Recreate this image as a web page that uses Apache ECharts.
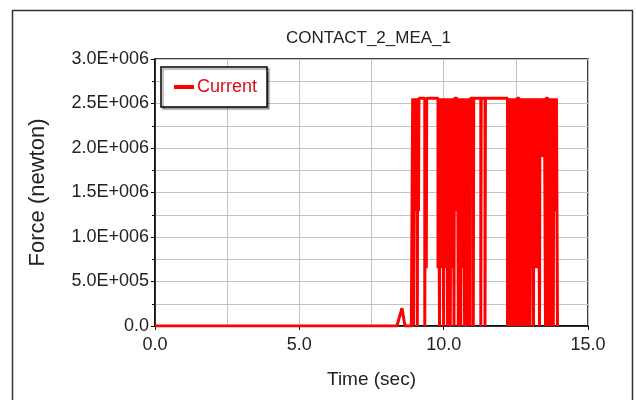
<!DOCTYPE html>
<html>
<head>
<meta charset="utf-8">
<style>html,body{margin:0;padding:0;background:#fff}#c{width:636px;height:400px}</style>
<script src="https://cdn.jsdelivr.net/npm/echarts@6/dist/echarts.min.js"></script>
</head>
<body>
<div id="c"></div>
<script>
// ---- data ----
const titleText = 'CONTACT_2_MEA_1';
const seriesName = 'Current';
const xTicks = [0, 5, 10, 15];
const xTickLabels = ['0.0', '5.0', '10.0', '15.0'];
const yTicks = [0, 500000, 1000000, 1500000, 2000000, 2500000, 3000000];
const yTickLabels = ['0.0', '5.0E+005', '1.0E+006', '1.5E+006', '2.0E+006', '2.5E+006', '3.0E+006'];

// quiet part with the small bump (straight segments)
const baseTime  = [0, 8.38, 8.556, 8.66, 8.90];
const baseForce = [0, 0, 200000, 0, 0];

// switching part (value holds from each time until the next one)
const stepTime = [
  8.88, 8.903, 8.927,
  8.955, 8.970, 9.007, 9.022, 9.048, 9.063, 9.087, 9.102, 9.128, 9.143,
  9.346, 9.361, 9.398, 9.413,
  9.804, 9.819, 9.856, 9.871, 9.908, 9.923, 9.953, 9.968, 9.998, 10.013,
  10.046, 10.061, 10.091, 10.106, 10.136, 10.151, 10.185, 10.200, 10.230, 10.245,
  10.275, 10.290, 10.323, 10.338, 10.358, 10.373,
  10.462, 10.477, 10.507, 10.522, 10.552, 10.567, 10.593, 10.608, 10.635, 10.650,
  10.680, 10.695, 10.725, 10.740, 10.774, 10.789, 10.819, 10.834, 10.864, 10.879,
  10.912, 10.927,
  11.026, 11.041, 11.286, 11.301, 11.432, 11.447,
  12.211, 12.226, 12.256, 12.271, 12.298, 12.313, 12.343, 12.358, 12.388, 12.403,
  12.436, 12.451, 12.481, 12.496, 12.526, 12.541,
  12.620, 12.635, 12.665, 12.680, 12.714, 12.729, 12.759, 12.774, 12.804, 12.819,
  12.852, 12.867, 12.897, 12.912, 12.942, 12.957, 12.991, 13.006,
  13.060, 13.075, 13.112, 13.127, 13.164, 13.179, 13.216, 13.231, 13.268, 13.283,
  13.320, 13.335, 13.372, 13.387, 13.424, 13.439, 13.476, 13.491, 13.528, 13.543,
  13.614, 13.629, 13.659, 13.674, 13.704, 13.719, 13.753, 13.768, 13.798, 13.813,
  13.843, 13.858, 13.891, 13.906, 13.943
];
const stepForce = [
  0, 1290000, 2560000,
  0, 2560000, 1290000, 2560000, 1290000, 2560000, 0, 2560000, 1290000, 2560000,
  0, 2560000, 650000, 2560000,
  650000, 2560000, 0, 2560000, 650000, 2560000, 650000, 2560000, 0, 2560000,
  650000, 2560000, 650000, 2560000, 0, 2560000, 650000, 2560000, 0, 2560000,
  650000, 2560000, 650000, 2560000, 0, 2560000,
  1290000, 2560000, 0, 2560000, 650000, 2560000, 0, 2560000, 650000, 2560000,
  650000, 2560000, 0, 2560000, 1290000, 2560000, 0, 2560000, 1290000, 2560000,
  0, 2560000,
  0, 2560000, 0, 2560000, 0, 2560000,
  0, 2560000, 1290000, 2560000, 0, 2560000, 0, 2560000, 1290000, 2560000,
  0, 2560000, 1290000, 2560000, 0, 2560000,
  0, 2560000, 0, 2560000, 1290000, 2560000, 0, 2560000, 0, 2560000,
  1290000, 2560000, 0, 2560000, 1290000, 2560000, 0, 2560000,
  650000, 2560000, 0, 2560000, 650000, 2560000, 1900000, 2560000, 650000, 2560000,
  0, 2560000, 1900000, 2560000, 1900000, 2560000, 1900000, 2560000, 0, 2560000,
  0, 2560000, 1290000, 2560000, 0, 2560000, 1290000, 2560000, 0, 2560000,
  1290000, 2560000, 1290000, 2560000, 0
];

// ---- chart ----
const FONT = "'Liberation Sans', Arial, sans-serif";
const RED = '#ff0000';
const chart = echarts.init(document.getElementById('c'), null, {renderer: 'canvas'});
chart.setOption({
  animation: false,
  backgroundColor: '#ffffff',
  textStyle: {fontFamily: FONT},
  graphic: [{
    type: 'rect', z: -10,
    shape: {x: 12.5, y: 10.5, width: 620, height: 420},
    style: {fill: 'none', stroke: '#333', lineWidth: 1.5}
  }],
  title: {
    text: titleText, left: 286, top: 30, padding: 0,
    textStyle: {fontFamily: FONT, fontSize: 17, fontWeight: 'normal', color: '#222'}
  },
  legend: {
    data: [{name: seriesName, icon: 'rect'}],
    left: 161, top: 67,
    padding: [11, 10, 11, 13],
    itemWidth: 20, itemHeight: 4, itemGap: 4,
    borderColor: '#000', borderWidth: 1.5, backgroundColor: '#fff',
    shadowColor: 'rgba(0,0,0,0.35)', shadowOffsetX: 2, shadowOffsetY: 2, shadowBlur: 1,
    textStyle: {fontFamily: FONT, fontSize: 18, color: '#d80f18', padding: [0, 0, 0, -2]}
  },
  grid: {
    left: 155, right: 48, top: 59, bottom: 74,
    show: true, borderColor: '#000', borderWidth: 1.5, backgroundColor: '#fff'
  },
  xAxis: {
    type: 'value', min: 0, max: 15, interval: 5,
    name: 'Time (sec)', nameLocation: 'middle', nameGap: 44,
    nameTextStyle: {fontFamily: FONT, fontSize: 19, color: '#222'},
    axisLine: {show: true, lineStyle: {color: '#000', width: 1.5}},
    axisTick: {show: true, length: 4, lineStyle: {color: '#000'}},
    minorTick: {show: false, splitNumber: 2},
    axisLabel: {
      fontFamily: FONT, fontSize: 18, color: '#222', margin: 10,
      formatter: v => { const i = xTicks.indexOf(v); return i >= 0 ? xTickLabels[i] : ''; }
    },
    splitLine: {show: true, lineStyle: {color: '#c4c4c4', width: 1}},
    minorSplitLine: {show: true, lineStyle: {color: '#c4c4c4', width: 1}}
  },
  yAxis: {
    type: 'value', min: 0, max: 3000000, interval: 500000,
    name: 'Force (newton)', nameLocation: 'middle', nameGap: 106, nameRotate: 90,
    nameTextStyle: {fontFamily: FONT, fontSize: 22, color: '#222'},
    axisLine: {show: true, lineStyle: {color: '#000', width: 1.5}},
    axisTick: {show: true, length: 4, lineStyle: {color: '#000'}},
    minorTick: {show: true, splitNumber: 2, length: 3, lineStyle: {color: '#000'}},
    axisLabel: {
      fontFamily: FONT, fontSize: 18, color: '#222', margin: 6, padding: [6, 0, 0, 0],
      formatter: v => { const i = yTicks.indexOf(v); return i >= 0 ? yTickLabels[i] : ''; }
    },
    splitLine: {show: true, lineStyle: {color: '#c4c4c4', width: 1}},
    minorSplitLine: {show: true, lineStyle: {color: '#c4c4c4', width: 1}}
  },
  series: [
    {
      name: seriesName, type: 'line', showSymbol: false, symbol: 'none',
      lineStyle: {color: RED, width: 3}, itemStyle: {color: RED},
      data: baseTime.map((t, i) => [t, baseForce[i]]), z: 3
    },
    {
      name: seriesName, type: 'line', showSymbol: false, symbol: 'none', step: 'end',
      lineStyle: {color: RED, width: 3}, itemStyle: {color: RED},
      data: stepTime.map((t, i) => [t, stepForce[i]]), z: 3
    }
  ]
});
</script>
</body>
</html>
